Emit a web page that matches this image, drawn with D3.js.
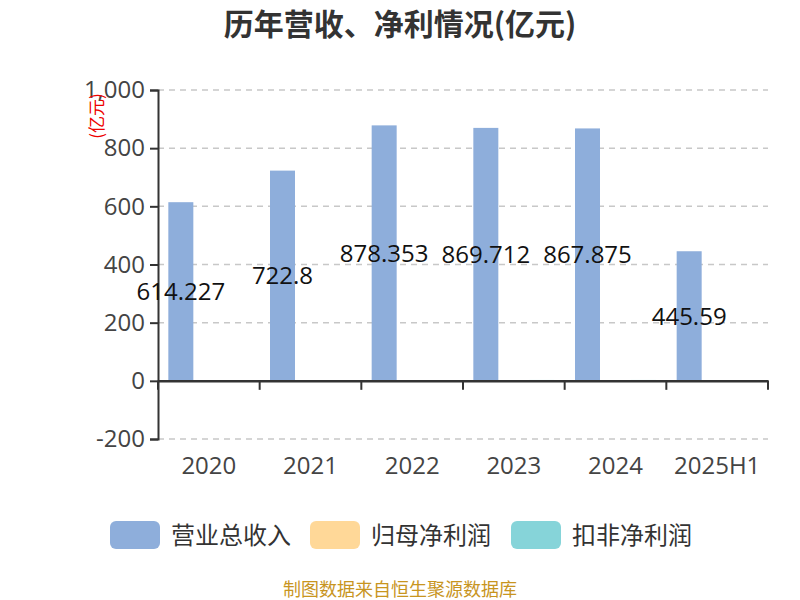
<!DOCTYPE html>
<html><head><meta charset="utf-8">
<script src="https://cdn.jsdelivr.net/npm/d3@7"></script>
<style>body{margin:0;background:#fff}svg{display:block;font-family:"Noto Sans CJK SC","Noto Sans",sans-serif}</style>
</head><body>
<svg id="c" width="800" height="600"></svg>
<script>
const categories = ["2020","2021","2022","2023","2024","2025H1"];
const seriesNames = ["营业总收入","归母净利润","扣非净利润"];
const revenue = [614.227, 722.8, 878.353, 869.712, 867.875, 445.59];
const netProfit = [0.3, 0.2, 0.3, 2.0, 1.0, -2.0];
const deductedProfit = [1.0, 0.3, 0.3, 3.0, 3.0, 0.2];
const yTicks = [-200, 0, 200, 400, 600, 800, 1000];
const colors = ["#8EAEDB", "#FFD898", "#86D4D9"];

(function () {
const svg = d3.select("#c");
const pLeft = 158, pRight = 768, pTop = 90, pBottom = 439;
const x = d3.scaleBand().domain(categories).range([pLeft, pRight]);
const y = d3.scaleLinear().domain([-200, 1000]).range([pBottom, pTop]);
const fmt = v => d3.format(",")(v).replace("−", "-");
const numFont = "'Open Sans','Noto Sans',sans-serif";

// title
svg.append("text").attr("x", 400).attr("y", 35).attr("text-anchor", "middle")
  .attr("font-size", 30).attr("font-weight", "bold").attr("fill", "#333")
  .text("历年营收、净利情况(亿元)");

// grid
svg.append("g").selectAll("line").data(yTicks.filter(d => d !== 0)).join("line")
  .attr("x1", pLeft).attr("x2", pRight).attr("y1", d => y(d)).attr("y2", d => y(d))
  .attr("stroke", "#c8c8c8").attr("stroke-width", 1.5).attr("stroke-dasharray", "6,5");

// y axis
const yAxis = svg.append("g").attr("transform", `translate(${pLeft},0)`)
  .call(d3.axisLeft(y).tickValues(yTicks).tickFormat(fmt).tickSize(8).tickPadding(5));
yAxis.select(".domain").attr("stroke", "#333").attr("stroke-width", 2);
yAxis.selectAll(".tick line").attr("stroke", "#333").attr("stroke-width", 2);
yAxis.selectAll(".tick text").attr("font-size", 24).attr("fill", "#444")
  .attr("font-family", numFont);

// unit label
svg.append("text").attr("transform", "translate(103,116) rotate(-90)")
  .attr("text-anchor", "middle").attr("font-size", 17).attr("fill", "#e00")
  .text("(亿元)");

// bars
const series = [revenue, netProfit, deductedProfit];
const barW = 25, step = 28;
series.forEach((vals, si) => {
  svg.append("g").selectAll("rect").data(vals).join("rect")
    .attr("x", (d, i) => x(categories[i]) + x.bandwidth() / 2 + (si - 1) * step - barW / 2)
    .attr("width", barW)
    .attr("y", d => Math.min(y(d), y(0)))
    .attr("height", d => Math.abs(y(d) - y(0)))
    .attr("fill", colors[si]);
});

// x axis
const xAxis = svg.append("g").attr("transform", `translate(0,${y(0)})`)
  .call(d3.axisBottom(x).tickSize(0).tickPadding(0));
xAxis.select(".domain").attr("stroke", "#333").attr("stroke-width", 2.5);
xAxis.selectAll(".tick text").remove();
const bounds = categories.map(c => x(c)).concat([pRight]);
svg.append("g").selectAll("line").data(bounds).join("line")
  .attr("x1", d => d).attr("x2", d => d).attr("y1", y(0)).attr("y2", y(0) + 9)
  .attr("stroke", "#333").attr("stroke-width", 2);
svg.append("g").selectAll("text").data(categories).join("text")
  .attr("x", d => x(d) + x.bandwidth() / 2).attr("y", 474).attr("text-anchor", "middle")
  .attr("font-size", 24).attr("fill", "#444").attr("font-family", numFont)
  .text(d => d);

// value labels on revenue bars
svg.append("g").selectAll("text").data(revenue).join("text")
  .attr("x", (d, i) => x(categories[i]) + x.bandwidth() / 2 - step)
  .attr("y", d => (y(d) + y(0)) / 2 + 8.5).attr("text-anchor", "middle")
  .attr("font-size", 24).attr("fill", "#111").attr("font-family", numFont)
  .text(d => d);

// legend
const legendX = [110, 310, 511];
const lg = svg.append("g").selectAll("g").data(seriesNames).join("g")
  .attr("transform", (d, i) => `translate(${legendX[i]},521)`);
lg.append("rect").attr("width", 50).attr("height", 28).attr("rx", 6)
  .attr("fill", (d, i) => colors[i]);
lg.append("text").attr("x", 61).attr("y", 23).attr("font-size", 24).attr("fill", "#333")
  .text(d => d);

// footer
svg.append("text").attr("x", 400).attr("y", 596).attr("text-anchor", "middle")
  .attr("font-size", 18).attr("fill", "#C8951F").text("制图数据来自恒生聚源数据库");
})();
</script>
</body></html>
